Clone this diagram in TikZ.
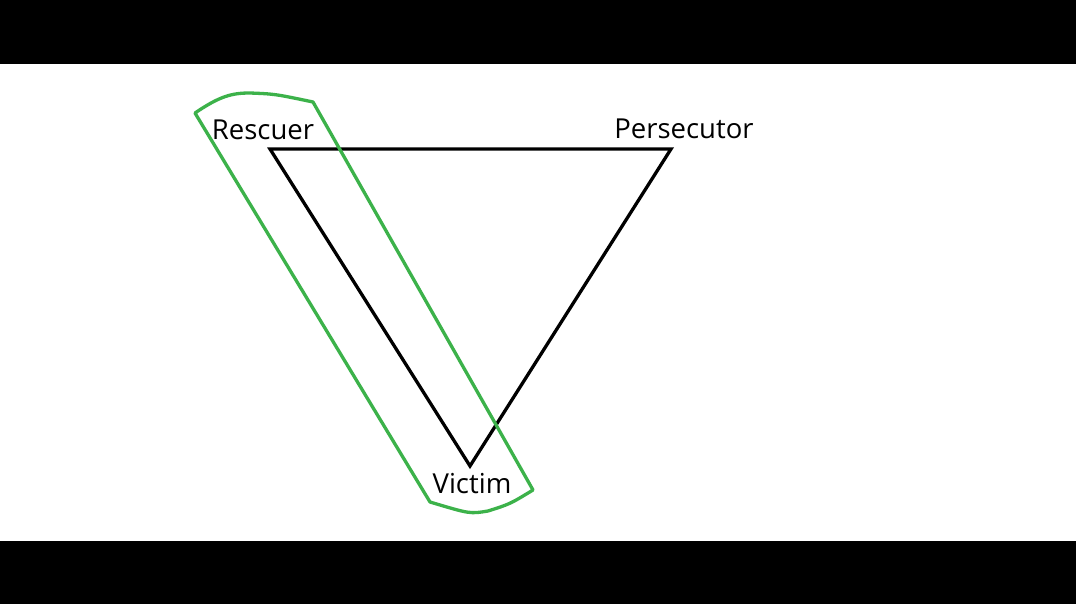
\documentclass[tikz,border=0pt]{standalone}
\usepackage{fontspec}
\setmainfont{Open Sans}
\usetikzlibrary{positioning}
\definecolor{loopgreen}{RGB}{60,178,74}

\begin{document}
\begin{tikzpicture}[x=1pt,y=1pt]
\tikzset{every node/.style={inner sep=0pt,font=\fontsize{27.5}{30}\selectfont}}
\useasboundingbox (0,0) rectangle (1076,-604);
\fill [black] (0,0) rectangle (1076,-604);
\fill [white] (0,-64) rectangle (1076,-541);
% triangle corners
\coordinate (resc) at (270,-149);
\coordinate (pers) at (671,-149);
\coordinate (vict) at (470,-466);
\draw [black,line width=3.3pt,line join=miter] (resc) -- (pers) -- (vict) -- cycle;
\node (resclabel) at (263,-130) {Rescuer};
\node (perslabel) at (684,-129) {Persecutor};
\node (victlabel) at (472,-484) {Victim};
% green loop
\draw [loopgreen,line width=3.3pt,line join=round] (195,-113) .. controls (220,-96) and (232,-93) .. (250,-93)
  .. controls (275,-94) .. (313,-102) -- (533,-490)
  .. controls (510,-504) .. (488,-511) .. controls (470,-514) .. (430,-502) -- cycle;
\end{tikzpicture}
\end{document}
